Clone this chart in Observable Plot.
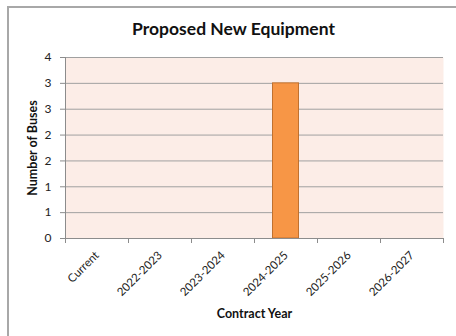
<!DOCTYPE html>
<html>
<head>
<meta charset="utf-8">
<script src="https://cdn.jsdelivr.net/npm/d3@7"></script>
<script src="https://cdn.jsdelivr.net/npm/@observablehq/plot@0.6"></script>
<style>
  html, body { margin: 0; padding: 0; background: #fff; }
  #wrap { position: relative; width: 456px; height: 336px; overflow: hidden; }
  #border { position: absolute; left: 7px; top: 6px; width: 600px; height: 600px;
            border-left: 2px solid #a8a8a8; border-top: 2px solid #a8a8a8; box-sizing: border-box; }
  #chart { position: absolute; left: 0; top: 0; }
</style>
</head>
<body>
<div id="wrap"><div id="border"></div><div id="chart"></div></div>
<script>
const title = "Proposed New Equipment";
const xLabel = "Contract Year";
const yLabel = "Number of Buses";
const categories = ["Current", "2022-2023", "2023-2024", "2024-2025", "2025-2026", "2026-2027"];
const values = [0, 0, 0, 3, 0, 0];
const yTicks = [0, 0.5, 1, 1.5, 2, 2.5, 3, 3.5];

const data = categories.map((c, i) => ({category: c, index: i, value: values[i]}));
const font = "Lato, 'Open Sans', sans-serif";

const chart = Plot.plot({
  width: 456,
  height: 336,
  marginLeft: 65,
  marginRight: 13,
  marginTop: 57,
  marginBottom: 98,
  style: {fontFamily: font, background: "transparent", overflow: "visible"},
  x: {type: "linear", domain: [0, categories.length], axis: null},
  y: {domain: [0, 3.5], axis: null},
  marks: [
    Plot.frame({fill: "#fcede7", stroke: null}),
    Plot.ruleY(yTicks.filter(t => t > 0), {stroke: "#a0a0a0", strokeWidth: 1}),
    Plot.rectY(data.filter(d => d.value > 0), {
      x1: d => d.index, x2: d => d.index + 1, y1: 0, y2: "value",
      insetLeft: 18.5, insetRight: 18.5,
      fill: "#f79646", stroke: "#c0712f", strokeWidth: 1
    }),
    Plot.ruleX([0], {stroke: "#8c8c8c"}),
    Plot.ruleY([0], {stroke: "#8c8c8c"}),
    Plot.axisY({
      ticks: yTicks, tickSize: 5, tickPadding: 9, stroke: "#8c8c8c",
      tickFormat: d => String(Math.round(d)), fontSize: 12, fill: "#222", label: null
    }),
    Plot.axisX({
      ticks: d3.range(0, categories.length + 1), tickSize: 5, tickFormat: () => "",
      stroke: "#8c8c8c", label: null
    }),
    Plot.text(data, {
      x: d => d.index + 0.5, y: 0, text: "category",
      rotate: -45, textAnchor: "end", lineAnchor: "middle", dy: 15, fontSize: 11.5, fill: "#222"
    }),
    Plot.text([xLabel], {frameAnchor: "bottom", textAnchor: "middle", lineAnchor: "middle", dy: 75, fontWeight: "bold", fontSize: 12.5, fill: "#111"}),
    Plot.text([yLabel], {frameAnchor: "left", textAnchor: "middle", lineAnchor: "middle", dx: -33, rotate: -90, fontWeight: "bold", fontSize: 12.5, fill: "#111"}),
    Plot.text([title], {frameAnchor: "top", textAnchor: "middle", lineAnchor: "middle", dy: -28, dx: -21, fontWeight: "bold", fontSize: 17.5, fill: "#111"})
  ]
});
document.getElementById("chart").appendChild(chart);
</script>
</body>
</html>
